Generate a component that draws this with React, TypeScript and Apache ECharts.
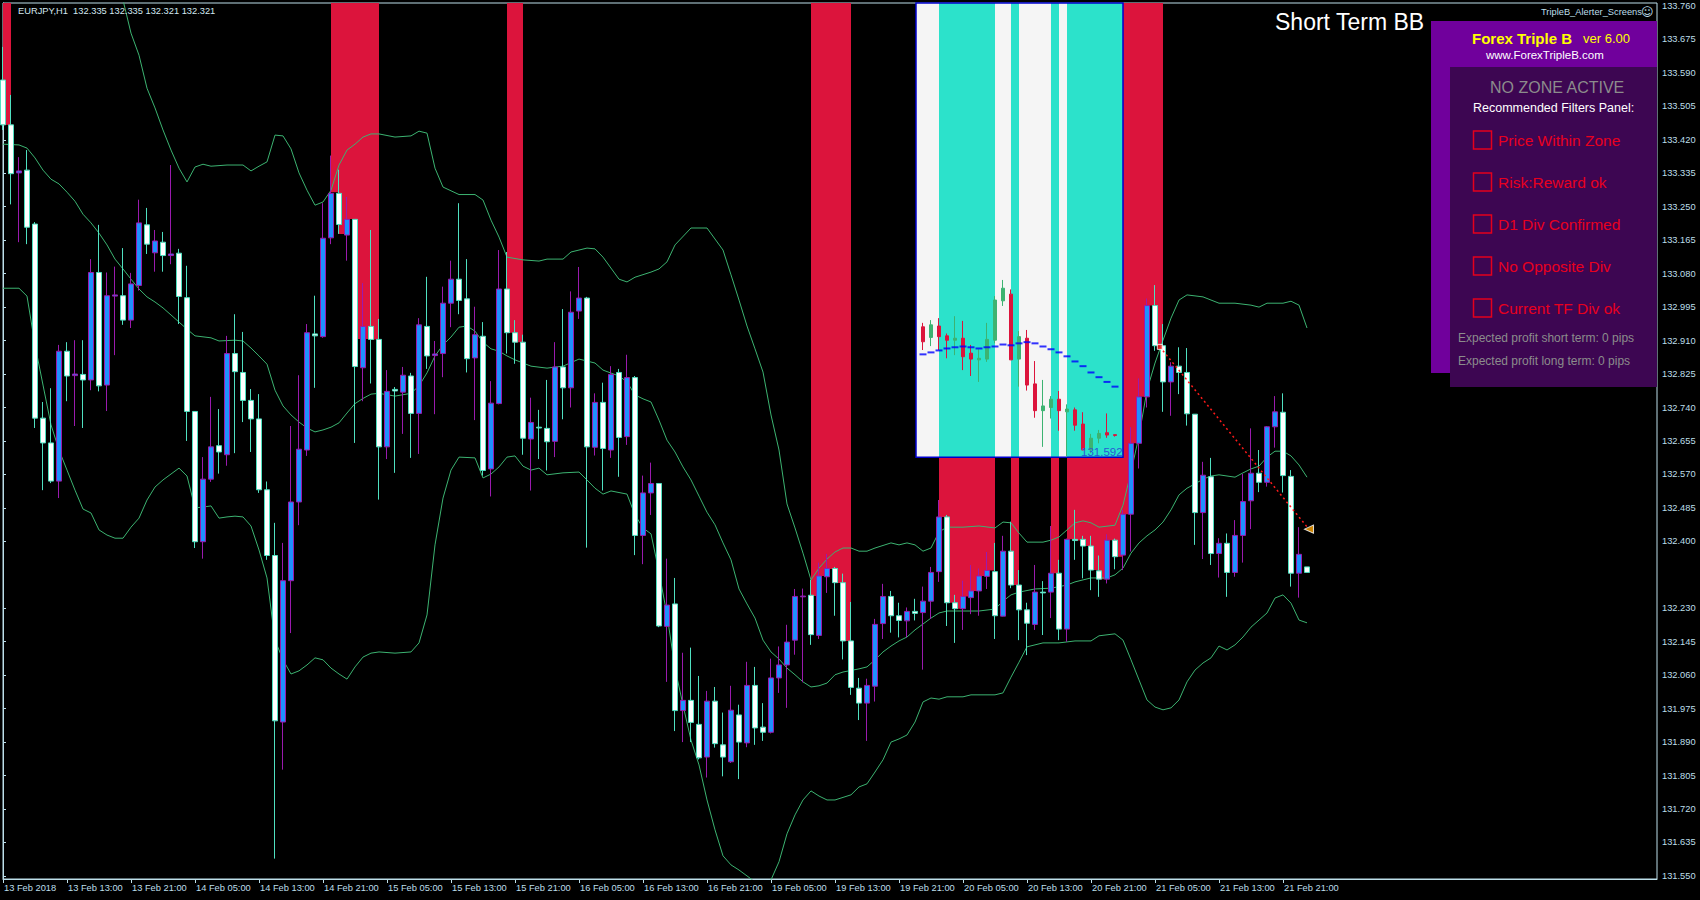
import React, { useEffect, useRef } from 'react';
import * as echarts from 'echarts';

const FONT = "'Liberation Sans', Arial, sans-serif";
const FG = '#BDDFEA';

const X_TICK_BARS = [0, 8, 16, 24, 32, 40, 48, 56, 64, 72, 80, 88, 96, 104, 112, 120, 128, 136, 144, 152, 160];
const X_TICK_LABELS = ['13 Feb 2018', '13 Feb 13:00', '13 Feb 21:00', '14 Feb 05:00', '14 Feb 13:00', '14 Feb 21:00', '15 Feb 05:00', '15 Feb 13:00', '15 Feb 21:00', '16 Feb 05:00', '16 Feb 13:00', '16 Feb 21:00', '19 Feb 05:00', '19 Feb 13:00', '19 Feb 21:00', '20 Feb 05:00', '20 Feb 13:00', '20 Feb 21:00', '21 Feb 05:00', '21 Feb 13:00', '21 Feb 21:00'];
const Y_TICKS = [133.760, 133.675, 133.590, 133.505, 133.420, 133.335, 133.250, 133.165, 133.080, 132.995, 132.910, 132.825, 132.740, 132.655, 132.570, 132.485, 132.400, 132.230, 132.145, 132.060, 131.975, 131.890, 131.805, 131.720, 131.635, 131.550];
const LAST_PRICE = 132.321;

const OPEN = [133.572, 133.458, 133.336, 133.343, 133.206, 132.713, 132.650, 132.553, 132.883, 132.821, 132.824, 132.810, 133.083, 132.797, 133.023, 133.024, 132.962, 133.050, 133.204, 133.133, 133.160, 133.126, 133.132, 133.019, 132.730, 132.399, 132.558, 132.643, 132.620, 132.877, 132.829, 132.758, 132.711, 132.531, 132.364, 131.941, 132.300, 132.500, 132.632, 132.927, 132.920, 133.171, 133.284, 133.178, 133.218, 132.841, 132.946, 132.913, 132.640, 132.786, 132.779, 132.820, 132.725, 132.946, 132.872, 132.877, 133.005, 133.066, 133.016, 132.866, 132.921, 132.584, 132.750, 133.041, 132.930, 132.906, 132.660, 132.690, 132.687, 132.654, 132.843, 132.790, 132.985, 133.018, 132.639, 132.753, 132.632, 132.829, 132.666, 132.816, 132.415, 132.523, 132.547, 132.184, 132.241, 131.970, 131.996, 131.935, 131.852, 131.994, 131.883, 131.840, 131.959, 131.888, 132.034, 131.928, 131.915, 132.053, 132.086, 132.149, 132.259, 132.263, 132.161, 132.310, 132.331, 132.295, 132.147, 132.027, 131.989, 132.032, 132.191, 132.260, 132.211, 132.198, 132.222, 132.219, 132.248, 132.323, 132.462, 132.244, 132.229, 132.257, 132.274, 132.311, 132.323, 132.210, 132.375, 132.289, 132.226, 132.189, 132.271, 132.271, 132.319, 132.177, 132.405, 132.405, 132.388, 132.325, 132.304, 132.403, 132.365, 132.469, 132.649, 132.767, 132.999, 132.897, 132.805, 132.845, 132.829, 132.723, 132.473, 132.564, 132.369, 132.395, 132.321, 132.415, 132.503, 132.573, 132.550, 132.691, 132.728, 132.565, 132.319, 132.335];
const HIGH = [133.656, 133.534, 133.376, 133.394, 133.211, 132.754, 132.789, 132.899, 132.906, 132.911, 132.911, 133.117, 133.204, 133.083, 133.098, 133.145, 133.082, 133.268, 133.247, 133.191, 133.186, 133.356, 133.143, 133.100, 132.731, 132.614, 132.767, 132.736, 132.922, 132.977, 132.932, 132.787, 132.774, 132.552, 132.447, 132.396, 132.693, 132.822, 132.952, 133.024, 133.259, 133.380, 133.344, 133.275, 133.218, 133.056, 133.191, 132.965, 132.835, 132.792, 132.843, 132.828, 132.967, 133.072, 132.909, 133.047, 133.113, 133.259, 133.117, 132.996, 132.957, 132.807, 133.140, 133.135, 132.962, 132.925, 132.765, 132.734, 132.810, 132.906, 132.990, 133.035, 133.097, 133.021, 132.776, 132.803, 132.845, 132.838, 132.874, 132.820, 132.567, 132.600, 132.548, 132.356, 132.307, 132.117, 132.130, 132.058, 132.020, 132.030, 131.965, 132.033, 131.985, 132.094, 132.081, 131.989, 132.102, 132.133, 132.188, 132.279, 132.280, 132.302, 132.346, 132.368, 132.335, 132.318, 132.246, 132.053, 132.051, 132.203, 132.292, 132.274, 132.244, 132.232, 132.254, 132.285, 132.335, 132.505, 132.467, 132.264, 132.300, 132.340, 132.331, 132.373, 132.396, 132.414, 132.450, 132.327, 132.244, 132.340, 132.299, 132.439, 132.353, 132.407, 132.480, 132.414, 132.414, 132.364, 132.418, 132.407, 132.480, 132.690, 132.814, 133.017, 133.051, 132.952, 132.855, 132.893, 132.891, 132.723, 132.602, 132.612, 132.408, 132.420, 132.454, 132.571, 132.687, 132.632, 132.693, 132.769, 132.776, 132.581, 132.436, 132.335];
const LOW = [133.445, 133.256, 133.160, 133.155, 132.688, 132.530, 132.548, 132.510, 132.756, 132.693, 132.688, 132.784, 132.781, 132.731, 132.873, 132.950, 132.942, 133.037, 133.130, 133.085, 133.085, 133.104, 132.952, 132.655, 132.383, 132.356, 132.551, 132.572, 132.592, 132.624, 132.703, 132.627, 132.523, 132.353, 131.594, 131.820, 132.167, 132.441, 132.617, 132.790, 132.917, 133.155, 133.181, 133.113, 132.650, 132.756, 132.801, 132.506, 132.609, 132.574, 132.673, 132.612, 132.622, 132.838, 132.723, 132.817, 132.944, 132.977, 132.829, 132.708, 132.567, 132.514, 132.748, 132.877, 132.851, 132.620, 132.529, 132.609, 132.580, 132.614, 132.710, 132.740, 132.965, 132.384, 132.618, 132.529, 132.612, 132.564, 132.645, 132.365, 132.342, 132.467, 132.182, 132.043, 131.918, 131.890, 131.890, 131.846, 131.800, 131.876, 131.803, 131.837, 131.796, 131.877, 131.883, 131.893, 131.912, 132.015, 131.977, 132.112, 132.042, 132.137, 132.152, 132.269, 132.211, 132.100, 132.010, 131.946, 131.893, 131.993, 132.152, 132.168, 132.156, 132.156, 132.199, 132.074, 132.203, 132.297, 132.185, 132.142, 132.175, 132.215, 132.211, 132.279, 132.152, 132.209, 132.281, 132.149, 132.111, 132.175, 132.162, 132.205, 132.149, 132.145, 132.353, 132.306, 132.276, 132.259, 132.293, 132.329, 132.327, 132.374, 132.585, 132.740, 132.884, 132.729, 132.719, 132.774, 132.694, 132.391, 132.355, 132.340, 132.308, 132.259, 132.310, 132.346, 132.431, 132.525, 132.539, 132.638, 132.524, 132.285, 132.257, 132.321];
const CLOSE = [133.458, 133.334, 133.341, 133.198, 132.713, 132.650, 132.553, 132.883, 132.820, 132.825, 132.810, 133.083, 132.795, 133.024, 133.026, 132.962, 133.054, 133.209, 133.155, 133.163, 133.126, 133.130, 133.022, 132.730, 132.399, 132.558, 132.640, 132.627, 132.877, 132.831, 132.758, 132.711, 132.531, 132.364, 131.944, 132.300, 132.500, 132.634, 132.930, 132.922, 133.170, 133.284, 133.205, 133.218, 132.844, 132.946, 132.913, 132.640, 132.781, 132.782, 132.822, 132.725, 132.950, 132.871, 132.876, 133.005, 133.066, 133.012, 132.864, 132.925, 132.580, 132.751, 133.041, 132.930, 132.906, 132.662, 132.702, 132.688, 132.653, 132.843, 132.790, 132.982, 133.018, 132.640, 132.753, 132.636, 132.824, 132.664, 132.816, 132.415, 132.523, 132.547, 132.185, 132.238, 131.970, 131.996, 131.940, 131.850, 131.994, 131.886, 131.852, 131.971, 131.890, 132.034, 131.926, 131.915, 132.053, 132.086, 132.144, 132.260, 132.261, 132.163, 132.312, 132.331, 132.295, 132.147, 132.029, 131.989, 132.034, 132.189, 132.260, 132.211, 132.199, 132.222, 132.217, 132.248, 132.321, 132.462, 132.244, 132.229, 132.260, 132.274, 132.312, 132.326, 132.211, 132.375, 132.289, 132.226, 132.192, 132.271, 132.269, 132.319, 132.177, 132.405, 132.402, 132.388, 132.327, 132.304, 132.403, 132.361, 132.469, 132.649, 132.767, 132.999, 132.897, 132.805, 132.845, 132.829, 132.724, 132.473, 132.568, 132.369, 132.395, 132.321, 132.415, 132.501, 132.573, 132.550, 132.691, 132.729, 132.567, 132.319, 132.367, 132.321];

const BB_UPPER = [[0, 133.775], [2, 133.771], [4, 133.851], [6, 133.966], [8, 134.004], [10, 133.973], [12, 133.932], [14, 133.821], [15, 133.775], [16, 133.691], [17, 133.635], [18, 133.551], [19, 133.501], [20, 133.445], [21, 133.394], [22, 133.348], [23, 133.313], [24, 133.351], [25, 133.358], [26, 133.353], [28, 133.356], [30, 133.356], [31, 133.341], [32, 133.353], [33, 133.364], [34, 133.432], [35, 133.430], [36, 133.397], [37, 133.336], [38, 133.292], [39, 133.254], [40, 133.262], [41, 133.292], [42, 133.356], [43, 133.394], [44, 133.409], [45, 133.427], [46, 133.435], [47, 133.435], [49, 133.427], [51, 133.430], [52, 133.442], [53, 133.437], [54, 133.348], [55, 133.300], [57, 133.281], [59, 133.281], [60, 133.267], [61, 133.216], [62, 133.173], [63, 133.122], [65, 133.115], [67, 133.112], [68, 133.117], [70, 133.117], [71, 133.135], [73, 133.145], [74, 133.143], [75, 133.122], [77, 133.066], [78, 133.059], [79, 133.071], [81, 133.084], [82, 133.092], [83, 133.110], [84, 133.153], [86, 133.196], [88, 133.196], [90, 133.140], [91, 133.077], [92, 133.013], [93, 132.947], [94, 132.889], [95, 132.830], [96, 132.721], [97, 132.632], [98, 132.495], [99, 132.434], [100, 132.370], [101, 132.302], [102, 132.332], [103, 132.355], [104, 132.373], [105, 132.383], [106, 132.383], [107, 132.375], [108, 132.375], [109, 132.383], [111, 132.396], [112, 132.391], [113, 132.396], [114, 132.391], [115, 132.375], [116, 132.383], [117, 132.424], [118, 132.436], [120, 132.436], [122, 132.439], [124, 132.434], [125, 132.449], [126, 132.447], [127, 132.421], [128, 132.398], [130, 132.398], [131, 132.403], [132, 132.411], [133, 132.429], [134, 132.447], [135, 132.452], [136, 132.447], [137, 132.436], [139, 132.441], [140, 132.492], [141, 132.576], [142, 132.668], [143, 132.784], [144, 132.853], [145, 132.911], [146, 132.967], [147, 133.013], [148, 133.026], [150, 133.021], [152, 133.005], [154, 133.005], [156, 133.000], [157, 132.995], [158, 133.005], [160, 133.005], [161, 133.010], [162, 133.000], [163, 132.942]];
const BB_MIDDLE = [[0, 133.409], [2, 133.407], [3, 133.399], [4, 133.374], [5, 133.343], [6, 133.320], [7, 133.308], [8, 133.287], [9, 133.264], [10, 133.231], [11, 133.209], [12, 133.183], [13, 133.153], [14, 133.117], [15, 133.092], [16, 133.066], [17, 133.041], [18, 133.021], [19, 133.008], [20, 132.993], [21, 132.975], [22, 132.957], [23, 132.939], [24, 132.922], [26, 132.917], [27, 132.909], [29, 132.911], [30, 132.909], [31, 132.891], [32, 132.871], [33, 132.850], [34, 132.784], [35, 132.744], [36, 132.721], [37, 132.703], [38, 132.688], [39, 132.678], [40, 132.683], [41, 132.690], [42, 132.701], [43, 132.726], [44, 132.750], [45, 132.763], [46, 132.774], [47, 132.776], [49, 132.769], [51, 132.776], [52, 132.795], [53, 132.828], [54, 132.871], [55, 132.899], [56, 132.919], [57, 132.944], [58, 132.947], [59, 132.934], [60, 132.906], [61, 132.889], [62, 132.883], [63, 132.871], [64, 132.861], [65, 132.853], [66, 132.845], [68, 132.840], [70, 132.845], [72, 132.863], [73, 132.858], [74, 132.853], [75, 132.835], [77, 132.820], [78, 132.805], [79, 132.772], [80, 132.762], [81, 132.754], [82, 132.708], [83, 132.657], [84, 132.627], [85, 132.589], [86, 132.556], [87, 132.515], [88, 132.474], [89, 132.442], [90, 132.396], [91, 132.353], [92, 132.279], [93, 132.241], [94, 132.205], [95, 132.149], [96, 132.119], [97, 132.101], [98, 132.078], [99, 132.061], [100, 132.043], [101, 132.030], [102, 132.033], [103, 132.040], [104, 132.061], [105, 132.068], [107, 132.076], [108, 132.081], [109, 132.099], [110, 132.119], [111, 132.134], [112, 132.147], [113, 132.157], [114, 132.175], [115, 132.190], [116, 132.205], [117, 132.218], [118, 132.223], [120, 132.223], [122, 132.223], [124, 132.228], [125, 132.248], [126, 132.264], [127, 132.271], [129, 132.279], [131, 132.281], [133, 132.289], [134, 132.297], [136, 132.307], [138, 132.307], [139, 132.315], [140, 132.332], [141, 132.370], [142, 132.396], [143, 132.414], [144, 132.429], [145, 132.449], [146, 132.480], [147, 132.518], [148, 132.535], [149, 132.546], [150, 132.558], [151, 132.566], [152, 132.569], [154, 132.563], [155, 132.574], [156, 132.584], [157, 132.591], [158, 132.614], [159, 132.629], [160, 132.629], [161, 132.617], [162, 132.594], [163, 132.563]];
const BB_LOWER = [[0, 133.043], [2, 133.043], [3, 133.023], [4, 132.899], [5, 132.797], [6, 132.696], [7, 132.632], [8, 132.581], [9, 132.530], [10, 132.482], [11, 132.472], [12, 132.429], [13, 132.416], [14, 132.408], [15, 132.408], [16, 132.436], [17, 132.459], [18, 132.505], [19, 132.538], [20, 132.556], [21, 132.571], [22, 132.586], [23, 132.566], [24, 132.485], [25, 132.487], [26, 132.490], [27, 132.459], [28, 132.462], [29, 132.464], [30, 132.462], [31, 132.439], [32, 132.378], [33, 132.307], [34, 132.149], [35, 132.099], [36, 132.063], [37, 132.071], [38, 132.086], [39, 132.104], [40, 132.099], [41, 132.078], [42, 132.063], [43, 132.050], [44, 132.081], [45, 132.106], [46, 132.116], [47, 132.119], [49, 132.116], [51, 132.119], [52, 132.142], [53, 132.213], [54, 132.391], [55, 132.510], [56, 132.581], [57, 132.614], [59, 132.612], [60, 132.561], [61, 132.571], [62, 132.589], [63, 132.614], [64, 132.617], [65, 132.591], [66, 132.581], [67, 132.586], [68, 132.569], [70, 132.574], [72, 132.576], [73, 132.556], [74, 132.535], [75, 132.520], [76, 132.528], [78, 132.520], [79, 132.467], [80, 132.434], [81, 132.419], [82, 132.322], [83, 132.213], [84, 132.078], [85, 131.984], [86, 131.895], [87, 131.832], [88, 131.743], [89, 131.667], [90, 131.601], [91, 131.578], [92, 131.565], [93, 131.550], [94, 131.535], [95, 131.524], [96, 131.540], [97, 131.586], [98, 131.657], [99, 131.705], [100, 131.743], [101, 131.766], [102, 131.753], [103, 131.743], [104, 131.743], [106, 131.756], [107, 131.776], [108, 131.784], [109, 131.814], [110, 131.845], [111, 131.890], [112, 131.898], [113, 131.908], [114, 131.941], [115, 131.992], [116, 132.002], [117, 131.999], [118, 132.005], [120, 132.005], [121, 132.010], [124, 132.010], [125, 132.015], [126, 132.055], [127, 132.093], [128, 132.132], [130, 132.142], [132, 132.142], [134, 132.147], [136, 132.147], [137, 132.160], [139, 132.165], [140, 132.149], [141, 132.099], [142, 132.048], [143, 131.997], [144, 131.979], [145, 131.972], [146, 131.977], [147, 131.997], [148, 132.043], [149, 132.073], [150, 132.091], [151, 132.104], [152, 132.134], [153, 132.124], [154, 132.137], [155, 132.157], [156, 132.182], [157, 132.200], [158, 132.218], [159, 132.256], [160, 132.264], [161, 132.243], [162, 132.200], [163, 132.193]];

const ZONE_BARS = [0, 41, 42, 43, 44, 45, 46, 63, 64, 101, 102, 103, 104, 105, 117, 118, 119, 120, 121, 122, 123, 126, 131, 133, 134, 135, 136, 137, 138, 139, 140, 141, 142, 143, 144];
const ZONE_BOTTOMS = [133.458, 133.287, 133.181, 133.219, 132.914, 132.914, 132.913, 132.930, 132.906, 132.261, 132.312, 132.330, 132.294, 132.147, 132.462, 132.244, 132.229, 132.260, 132.274, 132.312, 132.326, 132.289, 132.319, 132.405, 132.402, 132.388, 132.327, 132.304, 132.403, 132.361, 132.469, 132.649, 132.767, 132.999, 132.897];

const INSET_LEFT = 114.125;
const INSET_RIGHT = 140;
const INSET_BOTTOM = 132.6135;
const INSET_BANDS = [[114.125, 117, 0], [117, 124, 1], [124, 126, 0], [126, 127, 1], [127, 131, 0], [131, 132, 1], [132, 133, 0], [133, 140, 1]];
const INSET_BARS = [115, 116, 117, 118, 119, 120, 121, 122, 123, 124, 125, 126, 127, 128, 129, 130, 131, 132, 133, 134, 135, 136, 137, 138, 139];
const INSET_OPEN = [132.945, 132.918, 132.947, 132.922, 132.911, 132.916, 132.878, 132.861, 132.863, 132.911, 133.011, 133.028, 132.863, 132.916, 132.800, 132.732, 132.740, 132.761, 132.729, 132.734, 132.698, 132.632, 132.662, 132.676, 132.671];
const INSET_CLOSE = [132.907, 132.950, 132.920, 132.911, 132.916, 132.869, 132.863, 132.865, 132.913, 133.013, 133.043, 132.861, 132.920, 132.797, 132.732, 132.744, 132.761, 132.732, 132.736, 132.695, 132.632, 132.662, 132.674, 132.670, 132.669];
const INSET_HIGH = [132.955, 132.962, 132.967, 132.928, 132.972, 132.960, 132.899, 132.888, 132.955, 133.023, 133.064, 133.040, 132.934, 132.937, 132.858, 132.810, 132.769, 132.782, 132.748, 132.740, 132.728, 132.673, 132.683, 132.725, 132.671];
const INSET_LOW = [132.886, 132.896, 132.886, 132.865, 132.873, 132.835, 132.820, 132.805, 132.856, 132.903, 132.998, 132.861, 132.793, 132.783, 132.714, 132.640, 132.712, 132.681, 132.615, 132.681, 132.632, 132.624, 132.649, 132.663, 132.666];
const INSET_MA = [132.875, 132.880, 132.885, 132.890, 132.893, 132.895, 132.893, 132.890, 132.893, 132.895, 132.900, 132.898, 132.903, 132.906, 132.903, 132.895, 132.888, 132.880, 132.870, 132.857, 132.845, 132.829, 132.817, 132.805, 132.793];

const TREND_LINE = [[144.6, 132.894], [163, 132.437]];
const ARROW_POINT = [163.25, 132.431];
const PANEL_FILTERS = ['Price Within Zone', 'Risk:Reward ok', 'D1 Div Confirmed', 'No Opposite Div', 'Current TF Div ok'];

export default function App() {
  const ref = useRef<HTMLDivElement>(null);
  useEffect(() => {
    const chart = echarts.init(ref.current as HTMLDivElement, null, { renderer: 'svg' });

    const panelGraphics: any[] = [
      { type: 'rect', z: 90, shape: { x: 1431, y: 21, width: 226, height: 352 }, style: { fill: '#70009C' } },
      { type: 'rect', z: 91, shape: { x: 1450, y: 67, width: 207, height: 320 }, style: { fill: '#3D0652' } },
      { type: 'text', z: 92, x: 1472, y: 38, style: { text: 'Forex Triple B', fill: '#FFFF00', fontSize: 15, fontWeight: 'bold', fontFamily: FONT, verticalAlign: 'middle' } },
      { type: 'text', z: 92, x: 1583, y: 38, style: { text: 'ver 6.00', fill: '#FFFF00', fontSize: 13, fontFamily: FONT, verticalAlign: 'middle' } },
      { type: 'text', z: 92, x: 1486, y: 55, style: { text: 'www.ForexTripleB.com', fill: '#FFFFFF', fontSize: 11.5, fontFamily: FONT, verticalAlign: 'middle' } },
      { type: 'text', z: 92, x: 1490, y: 87, style: { text: 'NO ZONE ACTIVE', fill: '#8C8C8C', fontSize: 16, fontFamily: FONT, verticalAlign: 'middle' } },
      { type: 'text', z: 92, x: 1473, y: 108, style: { text: 'Recommended Filters Panel:', fill: '#FFFFFF', fontSize: 12.5, fontFamily: FONT, verticalAlign: 'middle' } },
      { type: 'text', z: 92, x: 1458, y: 338, style: { text: 'Expected profit short term: 0 pips', fill: '#8C8C8C', fontSize: 12, fontFamily: FONT, verticalAlign: 'middle' } },
      { type: 'text', z: 92, x: 1458, y: 361, style: { text: 'Expected profit long term: 0 pips', fill: '#8C8C8C', fontSize: 12, fontFamily: FONT, verticalAlign: 'middle' } },
    ];
    PANEL_FILTERS.forEach((label, k) => {
      const cy = 140 + 42 * k;
      panelGraphics.push({ type: 'rect', z: 92, shape: { x: 1473.5, y: cy - 9, width: 18, height: 18 }, style: { fill: 'none', stroke: '#E4001C', lineWidth: 1.5 } });
      panelGraphics.push({ type: 'text', z: 92, x: 1498, y: cy, style: { text: label, fill: '#E8001E', fontSize: 15.5, fontFamily: FONT, verticalAlign: 'middle' } });
    });

    const option: any = {
      animation: false,
      backgroundColor: '#000000',
      grid: { left: 3, right: 43, top: 3, bottom: 21, show: true, borderColor: FG, borderWidth: 1, backgroundColor: '#000000' },
      xAxis: {
        type: 'value', min: 0, max: 206.75,
        axisLine: { show: true, lineStyle: { color: FG, width: 1 } },
        axisTick: { show: true, length: 4, lineStyle: { color: FG }, customValues: X_TICK_BARS },
        axisLabel: {
          customValues: X_TICK_BARS, color: FG, fontSize: 9.3, fontFamily: FONT, align: 'left', margin: 4, padding: [0, 0, 0, 1],
          formatter: (v: number) => { const k = X_TICK_BARS.indexOf(Math.round(v)); return k >= 0 ? X_TICK_LABELS[k] : ''; },
        },
        splitLine: { show: false },
      },
      yAxis: {
        type: 'value', position: 'right', min: 131.5422, max: 133.7676, scale: true,
        axisLine: { show: true, lineStyle: { color: FG, width: 1 } },
        axisTick: { show: true, length: 3, lineStyle: { color: FG }, customValues: Y_TICKS },
        axisLabel: { customValues: Y_TICKS, color: FG, fontSize: 9.3, fontFamily: FONT, margin: 5, formatter: (v: number) => v.toFixed(3) },
        splitLine: { show: false },
      },
      series: [
        {
          type: 'custom', name: 'zones', z: 1, silent: true,
          data: ZONE_BARS.map((b, i) => [b, ZONE_BOTTOMS[i]]),
          encode: { x: 0, y: 1 },
          renderItem: (params: any, api: any) => {
            const b = api.value(0); const bottom = api.value(1);
            const a = api.coord([b, bottom]); const c = api.coord([b + 1, bottom]);
            const top = params.coordSys.y;
            return { type: 'rect', shape: { x: a[0], y: top, width: c[0] - a[0], height: a[1] - top }, style: { fill: '#DC143C' } };
          },
        },
        { type: 'line', name: 'bbU', z: 3, data: BB_UPPER, showSymbol: false, silent: true, lineStyle: { color: '#3CB371', width: 1 } },
        { type: 'line', name: 'bbM', z: 3, data: BB_MIDDLE, showSymbol: false, silent: true, lineStyle: { color: '#3CB371', width: 1 } },
        { type: 'line', name: 'bbL', z: 3, data: BB_LOWER, showSymbol: false, silent: true, lineStyle: { color: '#3CB371', width: 1 } },
        {
          type: 'candlestick', name: 'EURJPY', z: 5, barWidth: 5,
          data: OPEN.map((o, i) => [i, o, CLOSE[i], LOW[i], HIGH[i]]),
          encode: { x: 0, y: [1, 2, 3, 4] },
          itemStyle: { color: '#1E90FF', color0: '#FFFFFF', borderColor: '#9A1AAE', borderColor0: '#4FE0C0', borderWidth: 1 },
          markLine: {
            silent: true, symbol: ['none', 'none'], animation: false,
            lineStyle: { opacity: 0 },
            label: { show: true, position: 'end', distance: 2, formatter: LAST_PRICE.toFixed(3), backgroundColor: '#B0E0E6', color: '#000000', fontSize: 9.3, fontFamily: FONT, padding: [1, 4, 1, 3] },
            data: [{ yAxis: LAST_PRICE }],
          },
        },
        {
          type: 'custom', name: 'insetBg', z: 6, silent: true,
          data: INSET_BANDS.map((d) => [d[0], d[1], INSET_BOTTOM, d[2]]),
          encode: { x: [0, 1], y: 2 },
          renderItem: (params: any, api: any) => {
            const a = api.coord([api.value(0), api.value(2)]); const c = api.coord([api.value(1), api.value(2)]);
            const top = params.coordSys.y;
            return { type: 'rect', shape: { x: a[0], y: top, width: c[0] - a[0], height: a[1] - top }, style: { fill: api.value(3) === 1 ? '#2CE2CB' : '#F5F5F5' } };
          },
        },
        {
          type: 'custom', name: 'insetBorder', z: 7, silent: true,
          data: [[INSET_LEFT, INSET_RIGHT, INSET_BOTTOM]],
          encode: { x: [0, 1], y: 2 },
          renderItem: (params: any, api: any) => {
            const a = api.coord([api.value(0), api.value(2)]); const c = api.coord([api.value(1), api.value(2)]);
            const top = params.coordSys.y;
            return { type: 'rect', shape: { x: a[0], y: top, width: c[0] - a[0], height: a[1] - top }, style: { fill: 'none', stroke: '#0000CD', lineWidth: 1.5 } };
          },
        },
        {
          type: 'candlestick', name: 'inset', z: 8, barWidth: 4,
          data: INSET_BARS.map((b, i) => [b, INSET_OPEN[i], INSET_CLOSE[i], INSET_LOW[i], INSET_HIGH[i]]),
          encode: { x: 0, y: [1, 2, 3, 4] },
          itemStyle: { color: '#3CB371', color0: '#DC143C', borderColor: '#3CB371', borderColor0: '#DC143C', borderWidth: 1 },
        },
        {
          type: 'scatter', name: 'insetMA', z: 9, silent: true, symbol: 'rect', symbolSize: [7, 2],
          data: INSET_BARS.map((b, i) => [b, INSET_MA[i]]),
          itemStyle: { color: '#0000FF' },
        },
        {
          type: 'line', name: 'trend', z: 10, silent: true, data: TREND_LINE, showSymbol: false,
          lineStyle: { color: '#FF1A1A', width: 1.5, type: [2, 3] },
        },
        {
          type: 'scatter', name: 'start', z: 11, silent: true, symbol: 'rect', symbolSize: 5,
          data: [TREND_LINE[0]], itemStyle: { color: '#FF2020', borderColor: '#FFFFFF', borderWidth: 1 },
        },
        {
          type: 'scatter', name: 'arrow', z: 11, silent: true, symbol: 'triangle', symbolRotate: 90, symbolSize: [8, 9],
          data: [ARROW_POINT], itemStyle: { color: '#FFA500', borderColor: '#FFFFFF', borderWidth: 1 },
        },
      ],
      graphic: [
        { type: 'text', z: 100, x: 18, y: 11, style: { text: 'EURJPY,H1  132.335 132.335 132.321 132.321', fill: '#D2E8F0', fontSize: 9.3, fontFamily: FONT, verticalAlign: 'middle' } },
        { type: 'text', z: 100, x: 1275, y: 22, style: { text: 'Short Term BB', fill: '#FFFFFF', fontSize: 23, fontFamily: FONT, verticalAlign: 'middle' } },
        { type: 'text', z: 100, x: 1541, y: 12, style: { text: 'TripleB_Alerter_Screens', fill: FG, fontSize: 9.3, fontFamily: FONT, verticalAlign: 'middle' } },
        { type: 'text', z: 100, x: 1641, y: 12, style: { text: '\u263A', fill: FG, fontSize: 12, fontFamily: "'DejaVu Sans', sans-serif", verticalAlign: 'middle' } },
        { type: 'text', z: 100, x: 1081, y: 452, style: { text: '131.592', fill: '#2B57D6', fontSize: 11.5, fontFamily: FONT, verticalAlign: 'middle' } },
        ...panelGraphics,
      ],
    };
    chart.setOption(option);
    return () => chart.dispose();
  }, []);
  return <div ref={ref} style={{ position: 'fixed', left: 0, top: 0, width: 1700, height: 900, background: '#000000' }} />;
}
